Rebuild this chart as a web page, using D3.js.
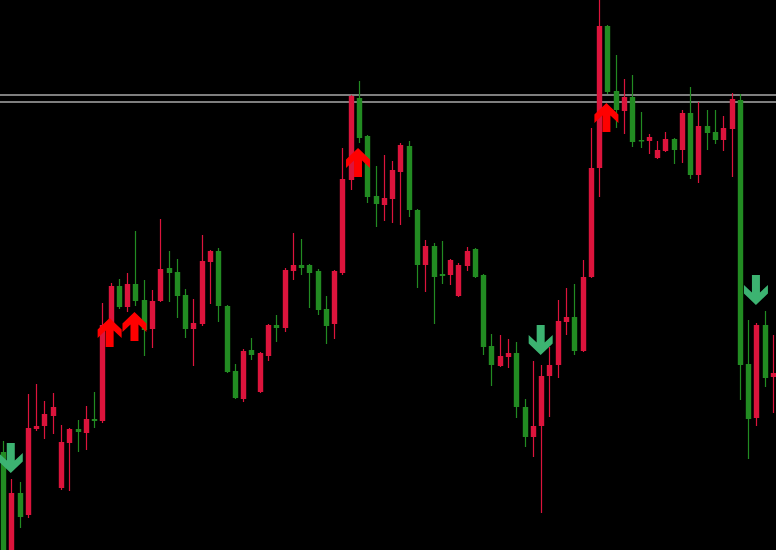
<!DOCTYPE html>
<html>
<head>
<meta charset="utf-8">
<script src="https://cdn.jsdelivr.net/npm/d3@7"></script>
<style>
  html, body { margin: 0; padding: 0; background: #000; overflow: hidden; }
  svg { display: block; }
</style>
</head>
<body>
<svg id="chart" width="776" height="550"></svg>
<script>
// ---- data ----
const openP = [1.2098,1.1994,1.2057,1.2035,1.2121,1.2124,1.2134,1.2062,1.2107,1.2121,
  1.2117,1.2131,1.2129,1.2224,1.2264,1.2243,1.2266,1.2250,1.2221,1.2249,
  1.2282,1.2278,1.2255,1.2221,1.2226,1.2288,1.2299,1.2244,1.2179,1.2151,
  1.2200,1.2158,1.2194,1.2225,1.2222,1.2279,1.2285,1.2285,1.2279,1.2241,
  1.2226,1.2277,1.2370,1.2452,1.2414,1.2354,1.2345,1.2351,1.2378,1.2404,
  1.2340,1.2285,1.2304,1.2276,1.2275,1.2254,1.2284,1.2301,1.2275,1.2204,
  1.2184,1.2193,1.2197,1.2143,1.2113,1.2124,1.2174,1.2185,1.2228,1.2233,
  1.2199,1.2273,1.2382,1.2524,1.2459,1.2439,1.2453,1.2410,1.2409,1.2392,
  1.2399,1.2411,1.2400,1.2437,1.2375,1.2424,1.2418,1.2410,1.2421,1.2450,
  1.2186,1.2132,1.2225,1.2173];
const highP = [1.2109,1.2071,1.2068,1.2156,1.2166,1.2149,1.2157,1.2125,1.2122,1.2130,
  1.2144,1.2158,1.2247,1.2267,1.2271,1.2277,1.2319,1.2270,1.2260,1.2331,
  1.2299,1.2291,1.2261,1.2251,1.2315,1.2300,1.2302,1.2245,1.2186,1.2201,
  1.2212,1.2198,1.2226,1.2235,1.2282,1.2317,1.2311,1.2286,1.2281,1.2254,
  1.2280,1.2402,1.2455,1.2469,1.2415,1.2384,1.2395,1.2389,1.2407,1.2409,
  1.2341,1.2310,1.2307,1.2309,1.2291,1.2287,1.2303,1.2302,1.2276,1.2216,
  1.2215,1.2211,1.2208,1.2151,1.2189,1.2185,1.2203,1.2250,1.2262,1.2266,
  1.2290,1.2422,1.2552,1.2525,1.2495,1.2471,1.2475,1.2438,1.2416,1.2409,
  1.2418,1.2412,1.2440,1.2463,1.2448,1.2440,1.2440,1.2434,1.2457,1.2456,
  1.2230,1.2227,1.2239,1.2215];
const lowP = [1.1988,1.1988,1.2022,1.2032,1.2119,1.2111,1.2116,1.2060,1.2059,1.2098,
  1.2100,1.2122,1.2127,1.2222,1.2241,1.2238,1.2244,1.2194,1.2202,1.2248,
  1.2248,1.2232,1.2212,1.2184,1.2224,1.2246,1.2228,1.2177,1.2151,1.2148,
  1.2190,1.2157,1.2189,1.2208,1.2218,1.2270,1.2275,1.2242,1.2235,1.2206,
  1.2211,1.2275,1.2360,1.2407,1.2347,1.2323,1.2329,1.2327,1.2325,1.2333,
  1.2262,1.2258,1.2226,1.2266,1.2265,1.2253,1.2279,1.2272,1.2195,1.2164,
  1.2183,1.2182,1.2132,1.2103,1.2093,1.2037,1.2133,1.2172,1.2215,1.2195,
  1.2198,1.2272,1.2353,1.2456,1.2422,1.2416,1.2403,1.2402,1.2396,1.2391,
  1.2398,1.2386,1.2387,1.2371,1.2367,1.2400,1.2406,1.2399,1.2373,1.2150,
  1.2091,1.2124,1.2163,1.2137];
const closeP = [1.1994,1.2057,1.2033,1.2122,1.2124,1.2136,1.2143,1.2108,1.2121,1.2118,
  1.2131,1.2129,1.2225,1.2264,1.2243,1.2266,1.2249,1.2220,1.2249,1.2281,
  1.2277,1.2254,1.2221,1.2227,1.2289,1.2299,1.2244,1.2178,1.2152,1.2199,
  1.2195,1.2197,1.2225,1.2222,1.2280,1.2285,1.2282,1.2277,1.2240,1.2224,
  1.2279,1.2371,1.2454,1.2412,1.2353,1.2346,1.2352,1.2380,1.2405,1.2340,
  1.2285,1.2304,1.2273,1.2274,1.2290,1.2285,1.2299,1.2273,1.2203,1.2185,
  1.2194,1.2197,1.2143,1.2113,1.2124,1.2174,1.2185,1.2229,1.2233,1.2199,
  1.2273,1.2382,1.2524,1.2458,1.2440,1.2453,1.2408,1.2409,1.2413,1.2400,
  1.2411,1.2400,1.2437,1.2375,1.2424,1.2417,1.2410,1.2422,1.2451,1.2185,
  1.2131,1.2225,1.2172,1.2177];

// horizontal levels
const levels = [1.2455, 1.2448];

// signal arrows: bar index and tip price
const buyIdx = [13, 16, 43, 73];
const buyTip = [1.2232, 1.2238, 1.2402, 1.2447];
const sellIdx = [1, 65, 91];
const sellTip = [1.2077, 1.2195, 1.2245];

// ---- drawing ----
const W = 776, H = 550;
const svg = d3.select('#chart');
svg.append('rect').attr('width', W).attr('height', H).attr('fill', '#000');

const n = openP.length;
const x = d3.scaleLinear().domain([0, n - 1]).range([3, 773]);
const y = d3.scaleLinear().domain([1.2550, 1.2000]).range([0, H]);

const UP = '#DC143C', DOWN = '#228B22';
const bars = d3.range(n).map(i => ({i, o: openP[i], h: highP[i], l: lowP[i], c: closeP[i]}));

// levels
svg.selectAll('line.level').data(levels).join('line')
  .attr('class', 'level')
  .attr('x1', 0).attr('x2', W)
  .attr('y1', d => y(d)).attr('y2', d => y(d))
  .attr('stroke', '#a8a8a8').attr('stroke-width', 1.5);

const g = svg.append('g');
g.selectAll('line.wick').data(bars).join('line')
  .attr('class', 'wick')
  .attr('x1', d => Math.round(x(d.i)) + 0.5).attr('x2', d => Math.round(x(d.i)) + 0.5)
  .attr('y1', d => y(d.h)).attr('y2', d => y(d.l))
  .attr('stroke', d => d.c >= d.o ? UP : DOWN).attr('stroke-width', 1.2);

const bw = 5.4;
g.selectAll('rect.body').data(bars).join('rect')
  .attr('class', 'body')
  .attr('x', d => Math.round(x(d.i)) + 0.5 - bw / 2)
  .attr('width', bw)
  .attr('y', d => y(Math.max(d.o, d.c)))
  .attr('height', d => Math.max(1.5, Math.abs(y(d.o) - y(d.c))))
  .attr('fill', d => d.c >= d.o ? UP : DOWN);

// arrows
const upPath = 'M0,0 L12,11.5 L12,20 L4,12.5 L4,29 L-4,29 L-4,12.5 L-12,20 L-12,11.5 Z';
const downPath = 'M0,0 L12,-11.5 L12,-20 L4,-12.5 L4,-30 L-4,-30 L-4,-12.5 L-12,-20 L-12,-11.5 Z';

svg.selectAll('path.buy').data(buyIdx).join('path')
  .attr('class', 'buy')
  .attr('d', upPath)
  .attr('transform', (d, k) => `translate(${x(d) - 1},${y(buyTip[k])})`)
  .attr('fill', '#ff0000');

svg.selectAll('path.sell').data(sellIdx).join('path')
  .attr('class', 'sell')
  .attr('d', downPath)
  .attr('transform', (d, k) => `translate(${x(d) - 0.5},${y(sellTip[k])})`)
  .attr('fill', '#3cb371');
</script>
</body>
</html>
